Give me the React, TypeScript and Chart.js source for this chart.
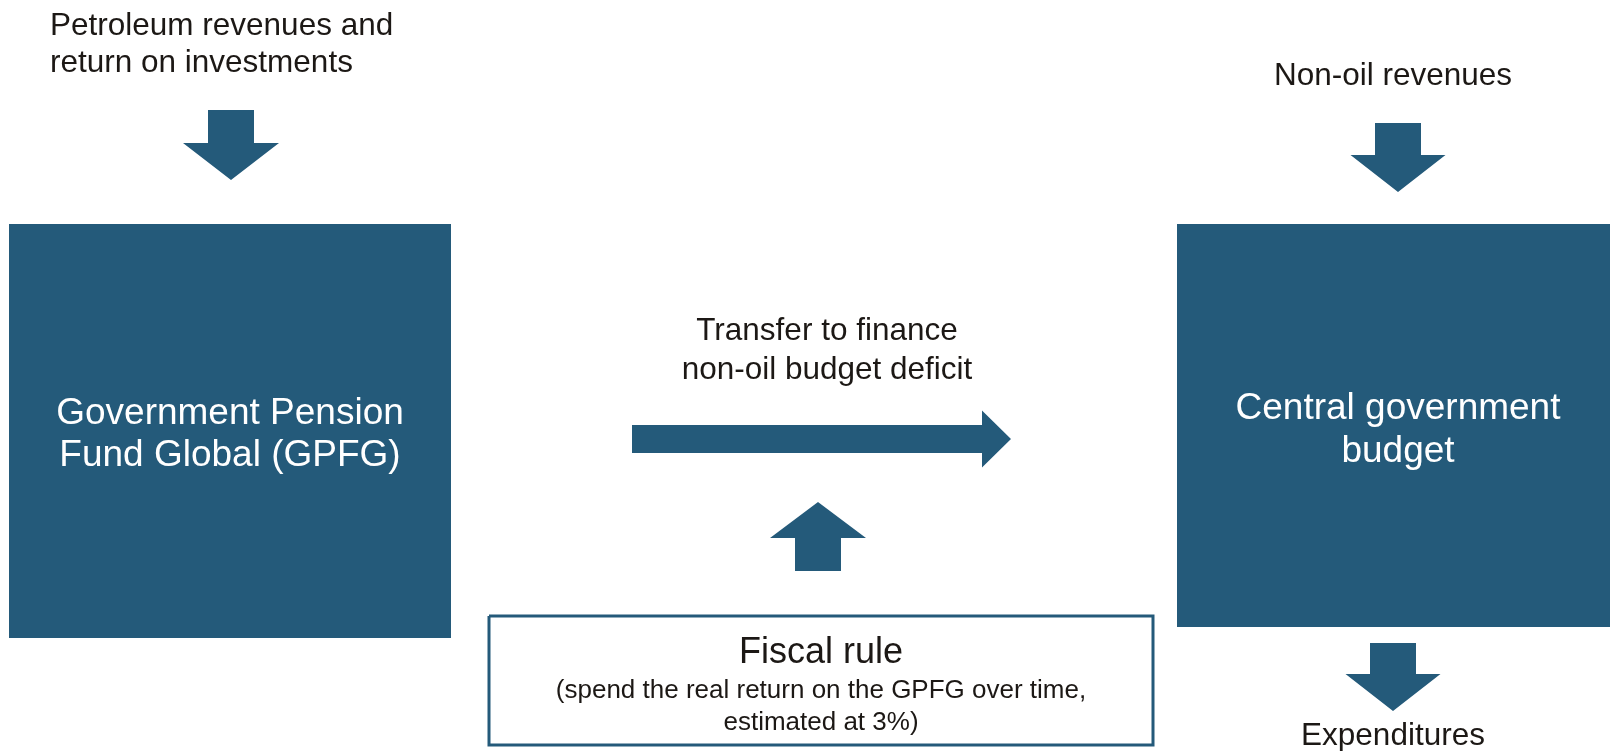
import React, { useEffect, useRef } from "react";
import { Chart, registerables } from "chart.js";

Chart.register(...registerables);

// Diagram space: x 0..1610 (left→right), y 0..751 (top→bottom)
const VIEW_W = 1610;
const VIEW_H = 751;

const BLUE = "#245a7a";
const INK = "#1c1815";
const FONT = '"Liberation Sans", Arial, Helvetica, sans-serif';

// Boxes: [left, top, right, bottom]
const boxGPFG = [9, 224, 451, 638];
const boxBudget = [1177, 224, 1610, 627];
const boxRule = [489, 616, 1153, 745];

// Vertical arrows: [centerX, shaftHalfWidth, shaftEnd, headBaseY, headHalfWidth, tipY]
const arrowPetroleum = [231, 23, 110, 143, 48, 180];
const arrowNonOil = [1398, 23, 123, 155, 47.5, 192];
const arrowExpenditures = [1393, 23, 643, 674, 47.5, 711];
const arrowFiscalRule = [818, 23, 571, 538, 48, 502];

// Horizontal arrow: [shaftStartX, centerY, shaftHalfHeight, headBaseX, headHalfHeight, tipX]
const arrowTransfer = [632, 439, 14, 982, 28.5, 1011];

// Text labels
const labelPetroleum = ["Petroleum revenues and", "return on investments"];
const labelNonOil = ["Non-oil revenues"];
const labelTransfer = ["Transfer to finance", "non-oil budget deficit"];
const labelGPFG = ["Government Pension", "Fund Global (GPFG)"];
const labelBudget = ["Central government", "budget"];
const labelRuleTitle = ["Fiscal rule"];
const labelRuleNote = ["(spend the real return on the GPFG over time,", "estimated at 3%)"];
const labelExpenditures = ["Expenditures"];

type Pt = { x: number; y: number };

function rectPts(b: number[]): Pt[] {
  const [l, t, r, btm] = b;
  return [
    { x: l, y: t },
    { x: r, y: t },
    { x: r, y: btm },
    { x: l, y: btm },
    { x: l, y: t },
  ];
}

function vArrowPts(a: number[]): Pt[] {
  const [cx, sh, end, hb, hh, tip] = a;
  return [
    { x: cx - sh, y: end },
    { x: cx + sh, y: end },
    { x: cx + sh, y: hb },
    { x: cx + hh, y: hb },
    { x: cx, y: tip },
    { x: cx - hh, y: hb },
    { x: cx - sh, y: hb },
    { x: cx - sh, y: end },
  ];
}

function hArrowPts(a: number[]): Pt[] {
  const [sx, cy, sh, hb, hh, tip] = a;
  return [
    { x: sx, y: cy - sh },
    { x: hb, y: cy - sh },
    { x: hb, y: cy - hh },
    { x: tip, y: cy },
    { x: hb, y: cy + hh },
    { x: hb, y: cy + sh },
    { x: sx, y: cy + sh },
    { x: sx, y: cy - sh },
  ];
}

type TextSpec = {
  lines: string[];
  x: number;
  y: number; // baseline of first line
  lh: number;
  size: number;
  color: string;
  align: CanvasTextAlign;
};

const texts: TextSpec[] = [
  { lines: labelPetroleum, x: 50, y: 35, lh: 37, size: 31.5, color: INK, align: "left" },
  { lines: labelNonOil, x: 1393, y: 85, lh: 37, size: 31.5, color: INK, align: "center" },
  { lines: labelTransfer, x: 827, y: 340, lh: 39, size: 31.5, color: INK, align: "center" },
  { lines: labelGPFG, x: 230, y: 424, lh: 42, size: 37, color: "#ffffff", align: "center" },
  { lines: labelBudget, x: 1398, y: 419, lh: 43, size: 37, color: "#ffffff", align: "center" },
  { lines: labelRuleTitle, x: 821, y: 663, lh: 36, size: 36, color: INK, align: "center" },
  { lines: labelRuleNote, x: 821, y: 698, lh: 32, size: 26, color: INK, align: "center" },
  { lines: labelExpenditures, x: 1393, y: 745, lh: 37, size: 31.5, color: INK, align: "center" },
];

const textPlugin = {
  id: "diagramText",
  afterDatasetsDraw(chart: any) {
    const { ctx, scales } = chart;
    const xs = scales.x;
    const ys = scales.y;
    ctx.save();
    ctx.textBaseline = "alphabetic";
    for (const t of texts) {
      ctx.font = `${t.size}px ${FONT}`;
      ctx.fillStyle = t.color;
      ctx.textAlign = t.align;
      t.lines.forEach((line, i) => {
        ctx.fillText(line, xs.getPixelForValue(t.x), ys.getPixelForValue(t.y + i * t.lh));
      });
    }
    ctx.restore();
  },
};

function filledShape(data: Pt[], fillColor: string, border = "rgba(0,0,0,0)", bw = 1) {
  return {
    data,
    showLine: true,
    fill: "shape",
    backgroundColor: fillColor,
    borderColor: border,
    borderWidth: bw,
    pointRadius: 0,
    pointHoverRadius: 0,
    tension: 0,
  };
}

export default function App() {
  const canvasRef = useRef<HTMLCanvasElement | null>(null);

  useEffect(() => {
    const canvas = canvasRef.current;
    if (!canvas) return;
    const chart = new Chart(canvas, {
      type: "line",
      data: {
        datasets: [
          filledShape(rectPts(boxGPFG), BLUE),
          filledShape(rectPts(boxBudget), BLUE),
          filledShape(rectPts(boxRule), "#ffffff", BLUE, 3),
          filledShape(vArrowPts(arrowPetroleum), BLUE),
          filledShape(vArrowPts(arrowNonOil), BLUE),
          filledShape(vArrowPts(arrowExpenditures), BLUE),
          filledShape(vArrowPts(arrowFiscalRule), BLUE),
          filledShape(hArrowPts(arrowTransfer), BLUE),
        ] as any,
      },
      options: {
        responsive: false,
        animation: false,
        events: [],
        layout: { padding: 0 },
        parsing: false as any,
        normalized: true,
        scales: {
          x: { type: "linear", min: 0, max: VIEW_W, display: false },
          y: { type: "linear", min: 0, max: VIEW_H, reverse: true, display: false },
        },
        plugins: {
          legend: { display: false },
          tooltip: { enabled: false },
        },
      },
      plugins: [textPlugin],
    });
    return () => chart.destroy();
  }, []);

  return (
    <div
      style={{
        position: "fixed",
        left: 0,
        top: 0,
        width: VIEW_W,
        height: VIEW_H,
        background: "#ffffff",
      }}
    >
      <canvas
        ref={canvasRef}
        width={VIEW_W}
        height={VIEW_H}
        style={{ display: "block", width: VIEW_W, height: VIEW_H }}
      />
    </div>
  );
}
